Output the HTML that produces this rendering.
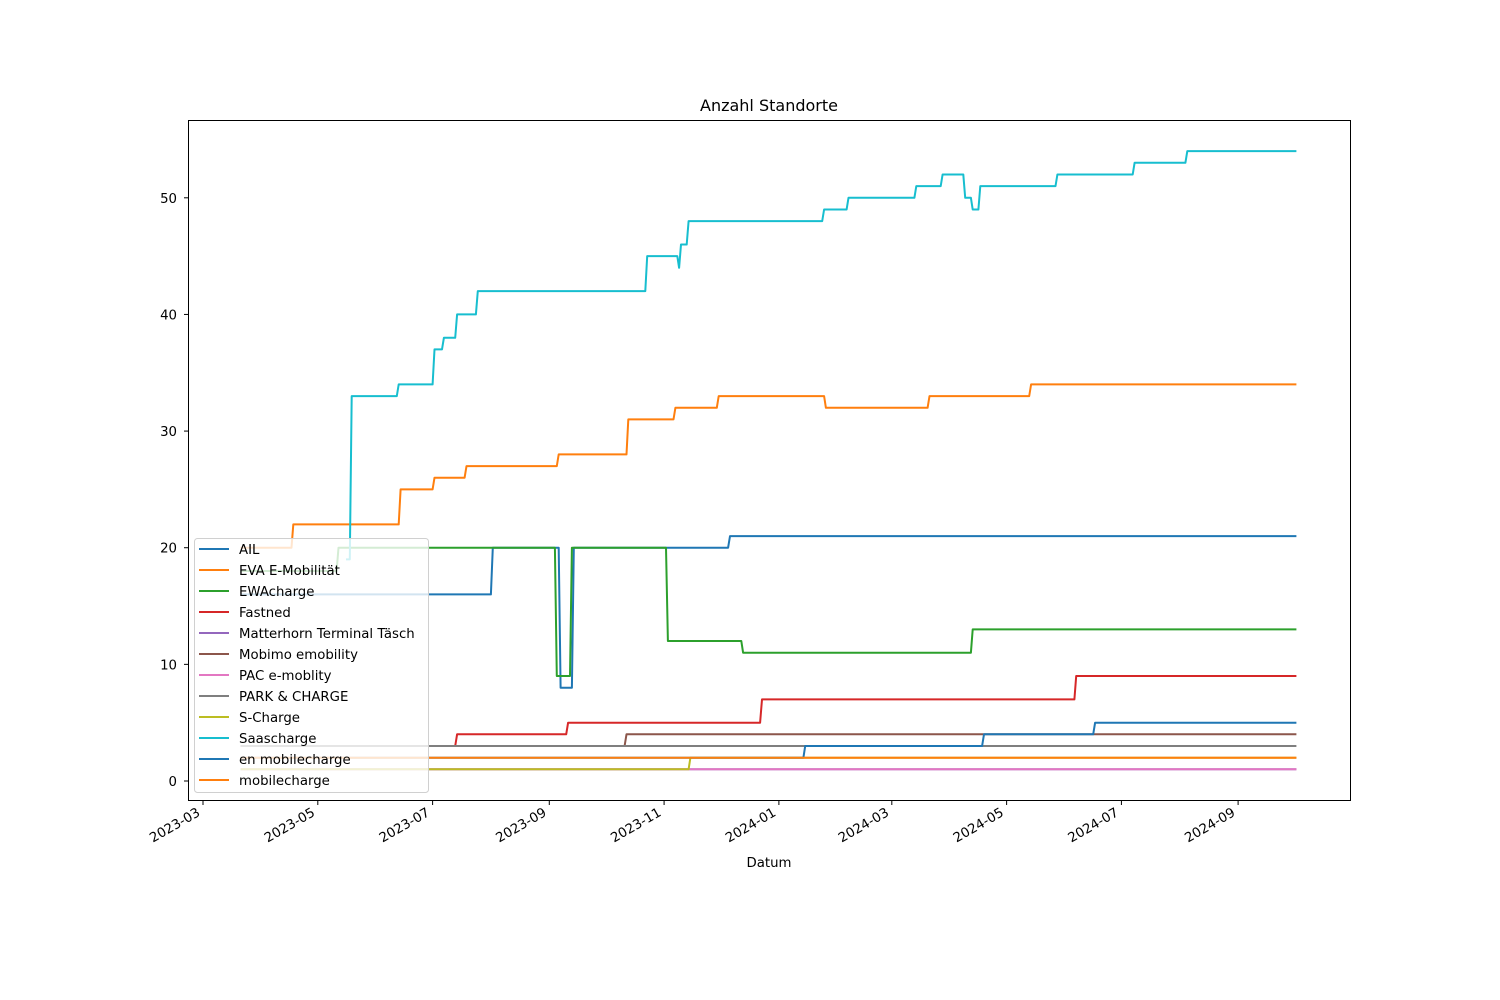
<!DOCTYPE html>
<html><head><meta charset="utf-8"><style>
html,body{margin:0;padding:0;background:#fff;}
svg{display:block;font-family:"DejaVu Sans","Liberation Sans",sans-serif;}
</style></head><body>
<svg id="chart" width="1500" height="1000" viewBox="0 0 1500 1000" xmlns="http://www.w3.org/2000/svg">
<rect x="0" y="0" width="1500" height="1000" fill="#fff"/>
<text x="769" y="111" font-size="16" text-anchor="middle">Anzahl Standorte</text>
<text x="769" y="867" font-size="13.3" text-anchor="middle">Datum</text>
<g id="plot"></g>
<rect x="188.5" y="120.5" width="1162" height="680" fill="none" stroke="#000" stroke-width="1"/>
<g id="axes"></g>
<g id="legend"></g>
</svg>
<script>
const seriesNames = ["AIL","EVA E-Mobilität","EWAcharge","Fastned","Matterhorn Terminal Täsch","Mobimo emobility","PAC e-moblity","PARK & CHARGE","S-Charge","Saascharge","en mobilecharge","mobilecharge"];
const seriesColors = ["#1f77b4","#ff7f0e","#2ca02c","#d62728","#9467bd","#8c564b","#e377c2","#7f7f7f","#bcbd22","#17becf","#1f77b4","#ff7f0e"];
const startDate = "2023-03-21";
const endDate = "2024-10-02";
const ailDates = ["2023-03-21","2023-08-02","2023-09-07","2023-09-14","2023-12-06"];
const ailValues = [16,20,8,20,21];
const evaDates = ["2023-03-21","2023-04-18","2023-06-14","2023-07-02","2023-07-19","2023-09-06","2023-10-13","2023-11-07","2023-11-30","2024-01-26","2024-03-21","2024-05-14"];
const evaValues = [20,22,25,26,27,28,31,32,33,32,33,34];
const ewaDates = ["2023-03-21","2023-05-12","2023-09-05","2023-09-13","2023-11-03","2023-12-13","2024-04-13"];
const ewaValues = [18,20,9,20,12,11,13];
const fastnedDates = ["2023-03-21","2023-07-14","2023-09-11","2023-12-23","2024-06-07"];
const fastnedValues = [3,4,5,7,9];
const matterhornDates = ["2023-03-21"];
const matterhornValues = [1];
const mobimoDates = ["2023-03-21","2023-10-12"];
const mobimoValues = [3,4];
const pacDates = ["2023-03-21"];
const pacValues = [1];
const parkDates = ["2023-03-21"];
const parkValues = [3];
const schargeDates = ["2023-03-21","2023-11-15"];
const schargeValues = [1,2];
const saasDates = ["2023-05-16","2023-05-19","2023-06-13","2023-07-02","2023-07-07","2023-07-14","2023-07-25","2023-10-23","2023-11-09","2023-11-10","2023-11-14","2024-01-25","2024-02-07","2024-03-14","2024-03-28","2024-04-09","2024-04-13","2024-04-17","2024-05-28","2024-07-08","2024-08-05"];
const saasValues = [19,33,34,37,38,40,42,45,44,46,48,49,50,51,52,50,49,51,52,53,54];
const enDates = ["2023-03-21","2024-01-15","2024-04-19","2024-06-17"];
const enValues = [2,3,4,5];
const mobileDates = ["2023-03-21"];
const mobileValues = [2];
const xTickLabels = ["2023-03","2023-05","2023-07","2023-09","2023-11","2024-01","2024-03","2024-05","2024-07","2024-09"];
const yTickValues = [0,10,20,30,40,50];

const allDates=[ailDates,evaDates,ewaDates,fastnedDates,matterhornDates,mobimoDates,pacDates,parkDates,schargeDates,saasDates,enDates,mobileDates];
const allValues=[ailValues,evaValues,ewaValues,fastnedValues,matterhornValues,mobimoValues,pacValues,parkValues,schargeValues,saasValues,enValues,mobileValues];

const NS="http://www.w3.org/2000/svg";
const base=Date.UTC(2023,2,1);
function dayOf(s){const p=s.split("-").map(Number);return (Date.UTC(p[0],p[1]-1,p[2]||1)-base)/86400000;}
function X(d){return 203+d*1.882;}
function Y(v){return 781-v*11.664;}
function mk(tag,attrs,parent){const e=document.createElementNS(NS,tag);for(const k in attrs)e.setAttribute(k,attrs[k]);parent.appendChild(e);return e;}

const plot=document.getElementById("plot");
const endD=dayOf(endDate);
for(let i=0;i<seriesNames.length;i++){
  const ds=allDates[i], vs=allValues[i];
  let pts=[[X(dayOf(ds[0])),Y(vs[0])]];
  for(let j=1;j<ds.length;j++){
    const d=dayOf(ds[j]);
    pts.push([X(d-1),Y(vs[j-1])]);
    pts.push([X(d),Y(vs[j])]);
  }
  pts.push([X(endD),Y(vs[vs.length-1])]);
  const pl=mk("polyline",{points:pts.map(p=>p[0].toFixed(1)+","+p[1].toFixed(1)).join(" "),fill:"none",stroke:seriesColors[i],"stroke-width":2,"stroke-linejoin":"round"},plot);
  
  
}

const axes=document.getElementById("axes");
for(const v of yTickValues){
  const y=Y(v);
  const t=mk("line",{x1:184,x2:188,y1:y,y2:y,stroke:"#000","stroke-width":1},axes);
  
  
  const l=mk("text",{x:177,y:y+5,"font-size":13.3,"text-anchor":"end"},axes);
  l.textContent=v;
  
  
}
for(const s of xTickLabels){
  const x=X(dayOf(s));
  const t=mk("line",{x1:x,x2:x,y1:801,y2:805,stroke:"#000","stroke-width":1},axes);
  
  
  const lx=x-2, ly=815;
  const l=mk("text",{x:lx,y:ly,"font-size":13.3,"text-anchor":"end",transform:`rotate(-30 ${lx} ${ly})`},axes);
  l.textContent=s;
  
  
}

const lg=document.getElementById("legend");
mk("rect",{x:194.5,y:538.5,width:234,height:254,rx:3,fill:"rgba(255,255,255,0.8)",stroke:"#d0d0d0","stroke-width":1},lg);
for(let i=0;i<seriesNames.length;i++){
  const y=549+i*21;
  const ln=mk("line",{x1:199,x2:229,y1:y,y2:y,stroke:seriesColors[i],"stroke-width":2},lg);
  
  
  const tx=mk("text",{x:239,y:y+5,"font-size":13.3,fill:"#000"},lg);
  tx.textContent=seriesNames[i];
  
  
}
</script>
</body></html>
